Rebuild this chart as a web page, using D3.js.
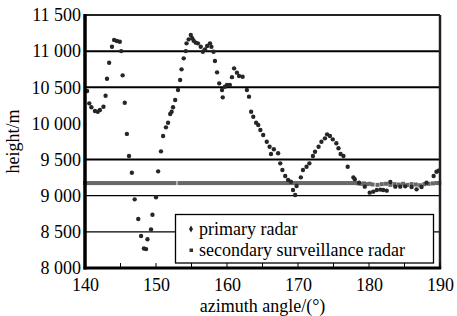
<!DOCTYPE html>
<html>
<head>
<meta charset="utf-8">
<script src="https://cdn.jsdelivr.net/npm/d3@7"></script>
<style>
  body { margin: 0; background: #fff; }
  svg text { font-family: "Liberation Serif", "DejaVu Serif", "Times New Roman", serif; fill: #000; }
</style>
</head>
<body>
<div id="chart"></div>
<script>
// primary radar points (azimuth deg, height m)
const primaryAz = [140.3,140.6,140.9,141.4,141.8,142.1,142.6,142.9,143.1,143.4,143.8,144.1,144.5,144.9,145.1,145.3,145.6,145.9,146.2,146.6,147.0,147.5,147.9,148.3,148.6,148.8,149.3,149.5,150.0,150.3,150.7,151.0,151.4,151.7,152.0,152.2,152.4,152.7,153.1,153.4,153.6,153.9,154.2,154.3,154.6,154.9,155.1,155.3,155.6,155.9,156.3,156.6,156.9,157.2,157.6,157.8,158.1,158.3,158.6,158.9,159.3,159.4,159.7,160.0,160.4,160.7,161.0,161.4,161.7,162.2,162.8,163.1,163.4,163.7,164.1,164.4,164.7,165.1,165.6,166.0,166.2,166.6,167.2,167.5,167.8,168.2,168.6,169.0,169.3,169.6,169.8,170.4,170.7,171.2,171.6,172.1,172.4,172.9,173.3,173.8,174.1,174.5,174.9,175.4,175.7,176.0,176.4,177.0,177.8,178.0,178.6,179.4,180.1,180.6,181.1,181.6,182.0,182.5,183.0,183.7,184.4,185.1,186.0,186.7,187.4,188.1,189.1,189.5,189.8];
const primaryH = [10448,10278,10223,10172,10162,10185,10231,10383,10618,10840,11061,11154,11140,11130,11001,10665,10286,9855,9549,9318,8950,8678,8443,8270,8262,8397,8535,8737,8978,9337,9614,9826,9946,10010,10130,10162,10223,10324,10462,10600,10748,10900,11001,11108,11163,11223,11180,11144,11117,11108,11061,10992,11025,11071,11108,11061,10992,10863,10707,10555,10462,10361,10508,10531,10531,10640,10762,10702,10656,10645,10462,10370,10162,10093,10010,9978,9909,9840,9747,9678,9577,9642,9587,9448,9355,9272,9217,9194,9079,9010,9134,9254,9355,9401,9448,9549,9609,9678,9747,9794,9849,9826,9780,9725,9656,9577,9549,9401,9254,9227,9180,9125,9042,9056,9079,9085,9079,9070,9190,9125,9125,9130,9120,9088,9120,9180,9272,9332,9346];

// secondary surveillance radar points
const secondaryAz = [140.0,140.4,140.8,141.2,141.6,142.0,142.4,142.8,143.2,143.6,144.0,144.4,144.8,145.2,145.6,146.0,146.4,146.8,147.2,147.6,148.0,148.4,148.8,149.2,149.6,150.0,150.4,150.8,151.2,151.6,152.0,152.3,152.6,153.3,153.7,154.1,154.5,154.9,155.3,155.7,156.1,156.5,156.9,157.3,157.7,158.1,158.5,158.9,159.3,159.7,160.1,160.5,160.9,161.3,161.7,162.1,162.5,162.9,163.3,163.7,164.1,164.5,164.9,165.3,165.7,166.1,166.5,166.9,167.3,167.7,168.1,168.5,168.9,169.3,169.7,170.1,170.5,170.9,171.3,171.7,172.1,172.5,172.9,173.3,173.7,174.1,174.5,174.9,175.3,175.7,176.1,176.5,176.9,177.3,177.7,178.1,178.5,178.9,179.3,179.7,180.1,180.5,181.2,181.8,182.4,183.0,183.6,184.2,184.8,185.4,186.0,186.6,187.2,187.8,188.4,189.0,189.5,189.9];
const secondaryH = [9175,9175,9175,9175,9175,9175,9175,9175,9175,9175,9175,9175,9175,9175,9175,9175,9175,9175,9175,9175,9175,9175,9175,9175,9175,9175,9175,9175,9175,9175,9175,9175,9175,9175,9175,9175,9175,9175,9175,9175,9175,9175,9175,9175,9175,9175,9175,9175,9175,9175,9175,9175,9175,9175,9175,9175,9175,9175,9175,9175,9175,9175,9175,9175,9175,9175,9175,9175,9175,9175,9175,9175,9175,9175,9175,9175,9175,9175,9175,9175,9175,9175,9175,9175,9175,9175,9175,9175,9175,9175,9175,9175,9175,9175,9175,9175,9170,9165,9170,9160,9165,9155,9150,9160,9165,9150,9160,9155,9165,9150,9160,9155,9145,9160,9165,9170,9175,9175];

const xTicks = [140,150,160,170,180,190];
const xMinor = [145,155,165,175,185];
const yTicks = [8000,8500,9000,9500,10000,10500,11000,11500];
const gridValues = [8500,9000,9500,10500,11000];

const width = 457, height = 316;
const margin = { top: 15, right: 17, bottom: 48, left: 85 };
const serif = '"Liberation Serif", "DejaVu Serif", "Times New Roman", serif';

const svg = d3.select("#chart").append("svg")
  .attr("width", width)
  .attr("height", height)
  .attr("font-family", serif);

const x = d3.scaleLinear().domain([140, 190]).range([margin.left, width - margin.right]);
const y = d3.scaleLinear().domain([8000, 11500]).range([height - margin.bottom, margin.top]);

// horizontal gridlines
svg.selectAll(".grid")
  .data(gridValues)
  .join("line")
  .attr("x1", x(140)).attr("x2", x(190))
  .attr("y1", d => y(d)).attr("y2", d => y(d))
  .attr("stroke", "#000")
  .attr("stroke-width", d => d >= 9500 ? 2 : 1.3);

// secondary radar band
svg.append("g")
  .selectAll("rect")
  .data(secondaryAz.map((a, i) => ({ a: a, h: secondaryH[i] })))
  .join("rect")
  .attr("x", d => x(d.a) - 2)
  .attr("y", d => y(d.h) - 2)
  .attr("width", 4)
  .attr("height", 4)
  .attr("fill", "#686868");

// primary radar points
svg.append("g")
  .selectAll("path")
  .data(primaryAz.map((a, i) => ({ a: a, h: primaryH[i] })))
  .join("path")
  .attr("transform", d => `translate(${x(d.a)},${y(d.h)})`)
  .attr("d", d3.symbol().type(d3.symbolCircle).size(15))
  .attr("fill", "#262626");

// frame
svg.append("line") // top
  .attr("x1", x(140)).attr("x2", x(190)).attr("y1", y(11500)).attr("y2", y(11500))
  .attr("stroke", "#222").attr("stroke-width", 2);
svg.append("line") // right
  .attr("x1", x(190)).attr("x2", x(190)).attr("y1", y(11500)).attr("y2", y(8000))
  .attr("stroke", "#222").attr("stroke-width", 2.5);

// bottom axis
const xAxis = svg.append("g")
  .attr("transform", `translate(0,${y(8000)})`)
  .call(d3.axisBottom(x).tickValues(xTicks).tickSize(0).tickPadding(10).tickFormat(d3.format("d")));
xAxis.attr("font-family", serif).attr("font-size", 18);
xAxis.select(".domain").remove();

svg.selectAll(".xtick")
  .data(xTicks.concat(xMinor))
  .join("line")
  .attr("x1", d => x(d)).attr("x2", d => x(d))
  .attr("y1", y(8000)).attr("y2", y(8000) - 5)
  .attr("stroke", "#000").attr("stroke-width", 1);

// left axis labels
const yAxis = svg.append("g")
  .attr("transform", `translate(${x(140)},0)`)
  .call(d3.axisLeft(y).tickValues(yTicks).tickSize(0).tickPadding(4)
    .tickFormat(d => d3.format(",")(d).replace(",", " ")));
yAxis.attr("font-family", serif).attr("font-size", 18);
yAxis.select(".domain").remove();

svg.append("line") // left
  .attr("x1", x(140)).attr("x2", x(140)).attr("y1", y(11500) - 1).attr("y2", y(8000) + 1.5)
  .attr("stroke", "#000").attr("stroke-width", 3.5);
svg.append("line") // bottom
  .attr("x1", x(140) - 1.5).attr("x2", x(190) + 1.2).attr("y1", y(8000)).attr("y2", y(8000))
  .attr("stroke", "#000").attr("stroke-width", 3);

// axis titles
svg.append("text")
  .attr("x", (x(140) + x(190)) / 2)
  .attr("y", 312)
  .attr("text-anchor", "middle")
  .attr("font-size", 18)
  .text("azimuth angle/(°)");

svg.append("text")
  .attr("transform", `translate(19,${(y(8000) + y(11500)) / 2}) rotate(-90)`)
  .attr("text-anchor", "middle")
  .attr("font-size", 18)
  .text("height/m");

// legend
const legend = svg.append("g");
legend.append("rect")
  .attr("x", 175.5).attr("y", 214.5)
  .attr("width", 258).attr("height", 48.5)
  .attr("fill", "#fff").attr("stroke", "#000").attr("stroke-width", 1.3);
legend.append("path")
  .attr("transform", "translate(191,229)")
  .attr("d", d3.symbol().type(d3.symbolDiamond).size(14))
  .attr("fill", "#222");
legend.append("rect")
  .attr("x", 189.5).attr("y", 248.5).attr("width", 3.5).attr("height", 3.5)
  .attr("fill", "#333");
legend.append("text")
  .attr("x", 199).attr("y", 235)
  .attr("font-size", 18)
  .text("primary radar");
legend.append("text")
  .attr("x", 199).attr("y", 256)
  .attr("font-size", 18)
  .text("secondary surveillance radar");
</script>
</body>
</html>
